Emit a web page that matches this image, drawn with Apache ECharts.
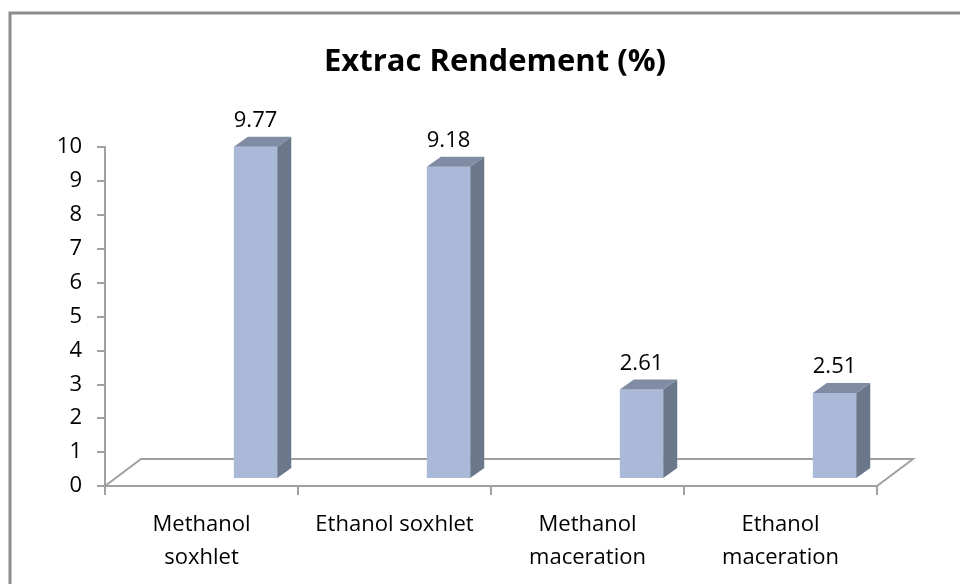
<!DOCTYPE html>
<html>
<head>
<meta charset="utf-8">
<style>html,body{margin:0;padding:0;background:#fff;}#chart{width:960px;height:584px;}</style>
<script src="https://cdn.jsdelivr.net/npm/echarts@6/dist/echarts.min.js"></script>
</head>
<body>
<div id="chart"></div>
<script>
const categories = ['Methanol\nsoxhlet', 'Ethanol soxhlet', 'Methanol\nmaceration', 'Ethanol\nmaceration'];
const values = [9.77, 9.18, 2.61, 2.51];
const yTicks = { min: 0, max: 10, interval: 1 };
const titleText = 'Extrac Rendement (%)';

const FONT = "'Open Sans', 'Noto Sans', sans-serif";
const chart = echarts.init(document.getElementById('chart'), null, { renderer: 'canvas' });

const floorDX = 36, floorDY = -27;
const barDX = 14, barDY = -10;
const barShiftY = -8;
const lineColor = '#a0a0a0';

function renderFloor(params, api) {
  const cs = params.coordSys;
  const y0 = api.coord([0, 0])[1];
  const xl = cs.x, xr = cs.x + cs.width;
  return {
    type: 'group',
    children: [
      { type: 'polyline', shape: { points: [[xl, y0], [xl + floorDX, y0 + floorDY], [xr + floorDX, y0 + floorDY], [xr, y0]] },
        style: { stroke: lineColor, lineWidth: 2, fill: null } }
    ]
  };
}

function renderBar(params, api) {
  const idx = api.value(0);
  const v = api.value(1);
  const base = api.coord([idx, 0]);
  const top = api.coord([idx, v]);
  const band = api.size([1, 0])[0];
  const w = band * 0.225;
  const cx = base[0] + band * 0.28;
  const l = cx - w / 2, r = cx + w / 2;
  const b = base[1] + barShiftY, t = top[1] + barShiftY;
  return {
    type: 'group',
    children: [
      { type: 'rect', shape: { x: l, y: t, width: w, height: b - t }, style: { fill: '#aab9d7' } },
      { type: 'polygon', shape: { points: [[r, b], [r + barDX, b + barDY], [r + barDX, t + barDY], [r, t]] }, style: { fill: '#6b778a' } },
      { type: 'polygon', shape: { points: [[l, t], [l + barDX, t + barDY], [r + barDX, t + barDY], [r, t]] }, style: { fill: '#7f8ca4' } },
      { type: 'text', style: { x: cx, y: t + barDY - 16, text: String(values[params.dataIndex]), font: '22px ' + FONT, fill: '#000', align: 'center', verticalAlign: 'middle' } }
    ]
  };
}

const option = {
  animation: false,
  backgroundColor: '#fff',
  title: {
    text: titleText, left: 490, top: 42, textAlign: 'center',
    textStyle: { fontFamily: FONT, fontSize: 31, fontWeight: 'bold', color: '#000' }
  },
  graphic: [
    { type: 'rect', shape: { x: 10, y: 13, width: 1000, height: 700 }, style: { fill: null, stroke: '#8c8c8c', lineWidth: 3 }, z: 100 }
  ],
  grid: { left: 105, right: 83, top: 147, bottom: 98 },
  xAxis: {
    type: 'category', data: categories, boundaryGap: true,
    axisLine: { lineStyle: { color: lineColor, width: 2 } },
    axisTick: { show: true, length: 9, lineStyle: { color: lineColor, width: 2 } },
    axisLabel: { fontFamily: FONT, fontSize: 22, color: '#000', margin: 22, lineHeight: 33, interval: 0 }
  },
  yAxis: {
    type: 'value', min: yTicks.min, max: yTicks.max, interval: yTicks.interval,
    splitLine: { show: false },
    axisLine: { show: true, lineStyle: { color: lineColor, width: 2 } },
    axisTick: { show: true, length: 8, lineStyle: { color: lineColor, width: 2 } },
    axisLabel: { fontFamily: FONT, fontSize: 22, color: '#000', margin: 23 }
  },
  series: [
    { type: 'custom', renderItem: renderFloor, data: [[0, 0]], z: 1, silent: true },
    { type: 'custom', renderItem: renderBar, data: values.map((v, i) => [i, v]), z: 2, silent: true }
  ]
};
chart.setOption(option);
</script>
</body>
</html>
